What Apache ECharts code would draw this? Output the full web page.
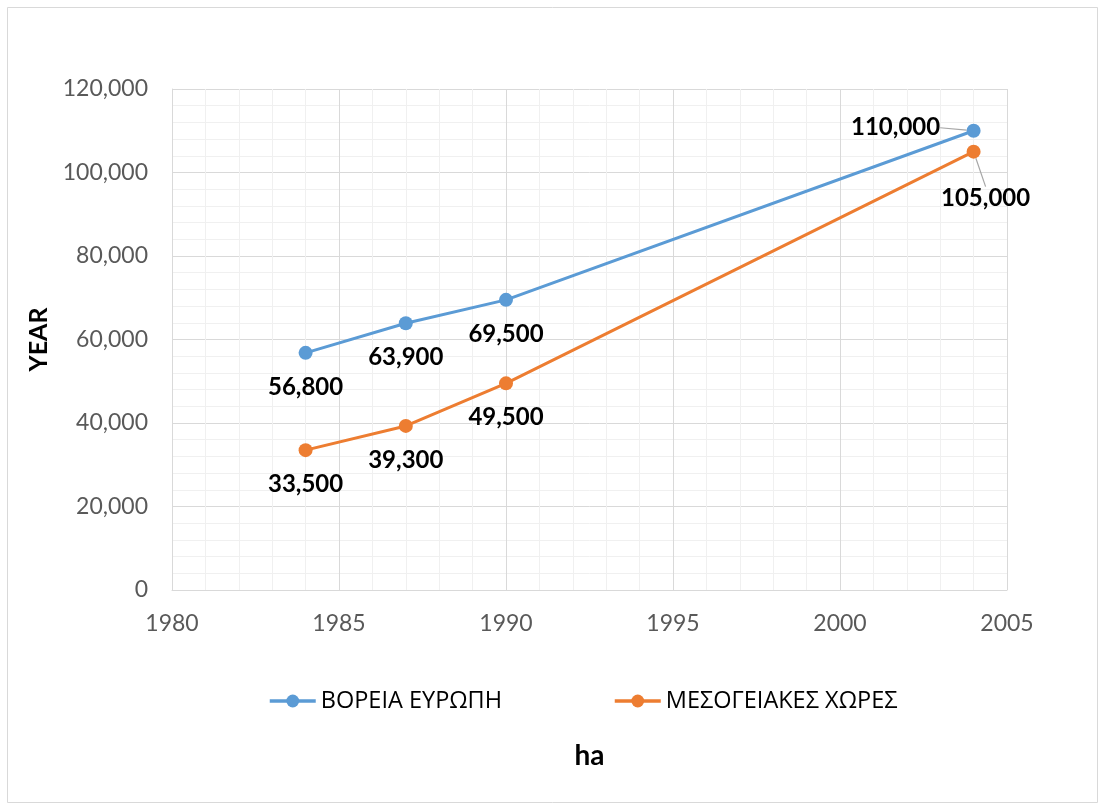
<!DOCTYPE html>
<html><head><meta charset="utf-8">
<script src="https://cdn.jsdelivr.net/npm/echarts@6/dist/echarts.min.js"></script>
<style>html,body{margin:0;padding:0;background:#fff}#c{width:1105px;height:810px}</style>
</head><body><div id="c"></div>
<script>
const years = [1984, 1987, 1990, 2004];
const northEurope = [56800, 63900, 69500, 110000];
const mediterranean = [33500, 39300, 49500, 105000];
const seriesNames = ['ΒΟΡΕΙΑ ΕΥΡΩΠΗ', 'ΜΕΣΟΓΕΙΑΚΕΣ ΧΩΡΕΣ'];
const xTitle = 'ha';
const yTitle = 'YEAR';

const FONT = 'Lato, "Open Sans", sans-serif';
const chart = echarts.init(document.getElementById('c'), null, {renderer: 'canvas'});
const fmt = v => v.toLocaleString('en-US');
function pairs(ys, leaderIdx){
  return years.map((x,i)=>{
    const item = {value:[x, ys[i]]};
    if (i === leaderIdx) item.labelLine = {show:true, lineStyle:{color:'#a6a6a6', width:1.2}};
    return item;
  });
}
const labelBase = {show:true, position:'bottom', distance:15, fontFamily:FONT, fontSize:24, fontWeight:'bold', color:'#000',
  formatter: p => fmt(p.value[1])};
const legendText = {fontFamily:'"Open Sans", sans-serif', fontSize:23.5, color:'#000'};
const legendCommon = {top:684, itemWidth:46, itemHeight:16, itemGap:10,
  lineStyle:{width:3.5}, textStyle:legendText};

chart.setOption({
  animation:false,
  backgroundColor:'#fff',
  graphic:[{type:'rect', shape:{x:7.5,y:7.5,width:1090,height:795}, style:{fill:'none', stroke:'#d9d9d9', lineWidth:1}, silent:true}],
  grid:{left:172, right:98, top:89, bottom:220},
  legend:[
    Object.assign({left:263, data:[seriesNames[0]]}, legendCommon),
    Object.assign({left:608, data:[seriesNames[1]]}, legendCommon)
  ],
  xAxis:{type:'value', min:1980, max:2005, interval:5,
    name:xTitle, nameLocation:'middle', nameGap:152,
    nameTextStyle:{fontFamily:FONT, fontSize:28, fontWeight:'bold', color:'#000'},
    axisLine:{show:true, lineStyle:{color:'#d9d9d9', width:1}}, axisTick:{show:false},
    axisLabel:{margin:22, fontFamily:FONT, fontSize:23, color:'#595959', formatter:v=>String(v)},
    splitLine:{show:true, lineStyle:{color:'#d9d9d9', width:1}},
    minorTick:{show:false, splitNumber:5},
    minorSplitLine:{show:true, lineStyle:{color:'#f0f0f0', width:1}}},
  yAxis:{type:'value', min:0, max:120000, interval:20000,
    name:yTitle, nameLocation:'middle', nameGap:106, nameRotate:90,
    nameTextStyle:{fontFamily:FONT, fontSize:25, fontWeight:'bold', color:'#000'},
    axisLine:{show:true, lineStyle:{color:'#d9d9d9', width:1}}, axisTick:{show:false},
    axisLabel:{margin:24, fontFamily:FONT, fontSize:23, color:'#595959', formatter:v=>fmt(v)},
    splitLine:{show:true, lineStyle:{color:'#d9d9d9', width:1}},
    minorTick:{show:false, splitNumber:5},
    minorSplitLine:{show:true, lineStyle:{color:'#f0f0f0', width:1}}},
  series:[
    {name:seriesNames[0], type:'line', data:pairs(northEurope, 3), symbol:'circle', symbolSize:14,
      color:'#5B9BD5', lineStyle:{width:3, color:'#5B9BD5'}, itemStyle:{color:'#5B9BD5'},
      label:labelBase,
      labelLayout: p => p.dataIndex === 3 ? {dx:-78, dy:-37} : {}},
    {name:seriesNames[1], type:'line', data:pairs(mediterranean, 3), symbol:'circle', symbolSize:14,
      color:'#ED7D31', lineStyle:{width:3, color:'#ED7D31'}, itemStyle:{color:'#ED7D31'},
      label:labelBase,
      labelLayout: p => p.dataIndex === 3 ? {dx:12, dy:13} : {}}
  ]
});
</script></body></html>
